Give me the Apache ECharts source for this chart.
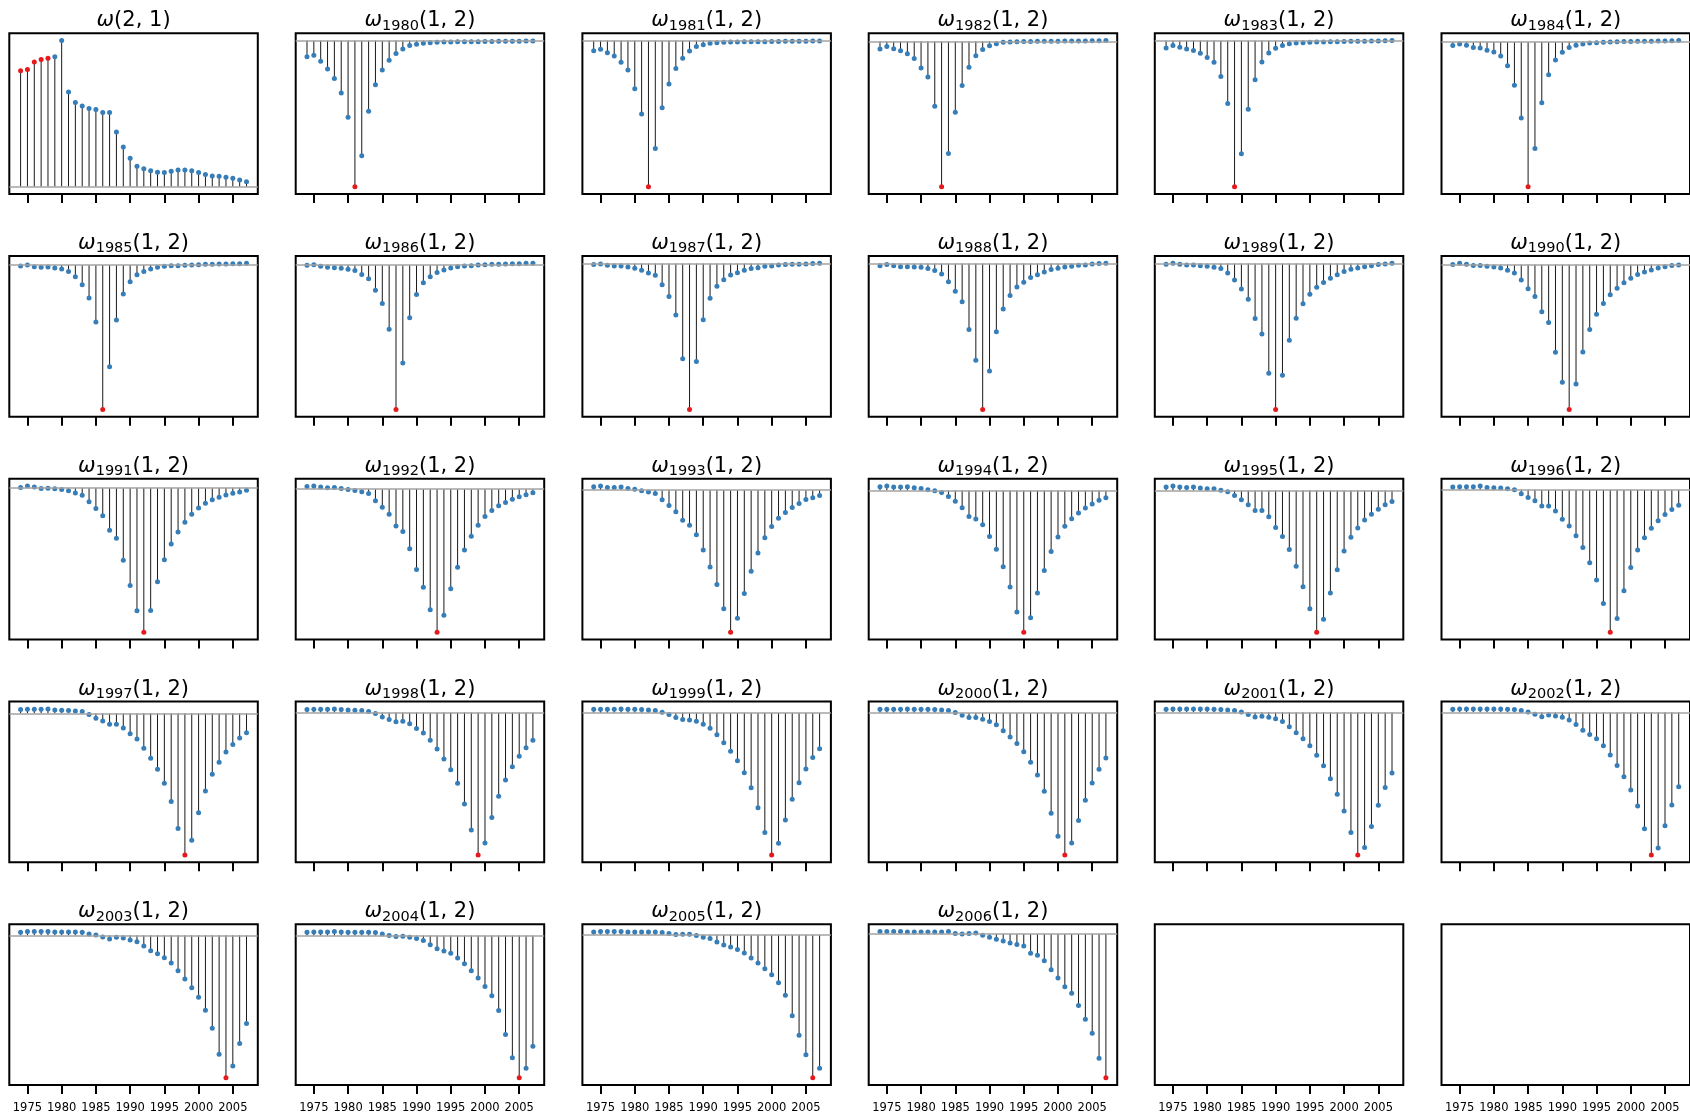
<!DOCTYPE html>
<html>
<head>
<meta charset="utf-8">
<script src="https://cdn.jsdelivr.net/npm/echarts@6/dist/echarts.min.js"></script>
<style>
  html, body { margin: 0; padding: 0; background: #fff; }
  #main { width: 1690px; height: 1119px; }
</style>
</head>
<body>
<div id="main"></div>
<script>
// x values (years) and tick labels
var years = [1974, 1975, 1976, 1977, 1978, 1979, 1980, 1981, 1982, 1983, 1984, 1985,
  1986, 1987, 1988, 1989, 1990, 1991, 1992, 1993, 1994, 1995, 1996, 1997, 1998,
  1999, 2000, 2001, 2002, 2003, 2004, 2005, 2006, 2007];
var tickYears = [1975, 1980, 1985, 1990, 1995, 2000, 2005];

// first panel: omega(2,1)
var w21 = [0.793, 0.802, 0.853, 0.871, 0.880, 0.890, 1.000, 0.648, 0.577, 0.552, 0.536,
  0.529, 0.508, 0.508, 0.375, 0.271, 0.195, 0.140, 0.122, 0.110, 0.099, 0.097, 0.106,
  0.115, 0.115, 0.110, 0.097, 0.083, 0.074, 0.071, 0.064, 0.057, 0.046, 0.034];
var w21Marked = [1974, 1975, 1976, 1977, 1978];

// omega_k(1,2) panels
var w1980 = [-11.0, -10.1, -14.2, -19.5, -25.9, -35.8, -52.5, -100, -78.9, -48.4, -30.3, -20.2, -13.5, -8.9, -5.7, -3.4, -2.5, -1.8, -1.4, -1.2, -1.0, -0.9, -0.8, -0.8, -0.7, -0.7, -0.6, -0.6, -0.5, -0.5, -0.4, -0.4, -0.3, -0.3];
var w1981 = [-6.9, -6.0, -8.3, -10.6, -14.9, -20.2, -32.9, -50.3, -100, -73.8, -46.0, -29.7, -19.1, -12.0, -7.1, -4.1, -2.8, -1.8, -1.4, -1.1, -1.0, -0.9, -0.8, -0.8, -0.7, -0.7, -0.6, -0.6, -0.5, -0.5, -0.4, -0.4, -0.3, -0.3];
var w1982 = [-5.3, -3.5, -5.1, -6.5, -8.6, -11.8, -18.3, -24.5, -44.7, -100, -77.1, -48.8, -30.3, -17.8, -10.0, -5.6, -3.0, -1.6, -0.7, -0.5, -0.3, -0.2, -0.1, 0, 0, 0.1, 0.1, 0.2, 0.2, 0.3, 0.3, 0.4, 0.4, 0.5];
var w1983 = [-5.0, -3.4, -4.6, -5.7, -6.7, -8.7, -11.5, -14.9, -24.5, -43.1, -100, -77.5, -47.0, -26.8, -14.7, -8.5, -5.3, -3.4, -2.1, -1.6, -1.4, -1.1, -1.0, -0.9, -0.8, -0.7, -0.6, -0.5, -0.5, -0.4, -0.3, -0.2, -0.1, 0];
var w1984 = [-2.5, -1.4, -2.3, -3.9, -4.2, -5.8, -6.9, -9.7, -16.4, -29.9, -52.5, -100, -73.6, -42.1, -22.7, -12.5, -7.2, -3.9, -2.3, -1.4, -0.7, -0.5, -0.2, 0, 0.1, 0.2, 0.3, 0.4, 0.5, 0.5, 0.6, 0.7, 0.8, 0.9];
var w1985 = [-0.7, 0, -1.2, -1.6, -1.4, -2.1, -2.8, -4.4, -8.1, -13.7, -22.9, -39.4, -100, -70.4, -38.0, -20.1, -11.6, -6.7, -4.4, -2.8, -1.6, -0.9, -0.5, -0.5, -0.2, 0, 0.2, 0.5, 0.5, 0.7, 0.7, 0.9, 0.9, 1.2];
var w1986 = [-0.2, 0.2, -0.9, -1.6, -1.9, -2.3, -3.0, -3.7, -6.5, -9.5, -17.4, -26.6, -44.4, -100, -67.8, -36.6, -20.4, -12.3, -8.1, -5.1, -3.5, -2.1, -1.2, -0.7, -0.5, 0, 0.2, 0.5, 0.5, 0.7, 0.9, 0.9, 1.2, 1.2];
var w1987 = [-0.7, -0.2, -1.1, -1.6, -1.6, -2.3, -3.2, -4.6, -6.4, -8.0, -14.5, -22.5, -35.2, -65.3, -100, -67.1, -38.6, -23.7, -15.6, -11.0, -7.8, -6.2, -4.6, -3.4, -2.8, -1.8, -1.6, -0.9, -0.7, -0.5, -0.5, -0.2, 0, 0.2];
var w1988 = [-1.4, -0.7, -1.4, -2.1, -2.1, -2.3, -2.5, -3.4, -4.8, -7.1, -12.4, -19.0, -26.1, -45.2, -66.3, -100, -73.6, -46.8, -31.2, -21.8, -16.1, -12.8, -9.6, -7.6, -5.7, -4.1, -3.2, -2.3, -1.8, -1.1, -0.9, -0.2, 0, 0.2];
var w1989 = [-0.5, 0.2, -0.5, -0.9, -0.9, -1.4, -1.8, -2.5, -3.4, -6.4, -11.3, -17.5, -24.4, -37.7, -48.3, -75.2, -100, -76.6, -52.6, -37.5, -27.6, -21.1, -16.3, -12.9, -10.1, -7.6, -5.5, -3.9, -3.0, -2.1, -1.4, -0.7, -0.2, 0.2];
var w1990 = [0, 0.9, 0.2, -0.7, -0.7, -1.2, -1.6, -2.3, -3.9, -5.8, -10.6, -16.7, -22.0, -32.6, -40.0, -60.6, -81.3, -100, -82.4, -60.4, -44.9, -34.3, -26.9, -20.8, -16.4, -12.5, -9.5, -6.9, -5.1, -3.7, -2.3, -1.4, -0.7, -0.2];
var w1991 = [0.2, 1.2, 0.5, -0.5, -0.2, -0.7, -1.2, -2.1, -3.5, -5.1, -9.7, -14.4, -19.4, -29.4, -34.9, -50.2, -67.6, -85.2, -100, -84.9, -65.0, -49.8, -38.9, -30.6, -23.8, -18.3, -13.9, -10.6, -8.3, -6.5, -4.9, -3.7, -2.8, -1.6];
var w1992 = [1.9, 2.1, 1.4, 0.9, 1.2, 0.5, -0.2, -0.9, -1.9, -3.0, -8.2, -12.6, -17.6, -25.8, -29.7, -41.7, -56.2, -68.6, -84.3, -100, -88.1, -69.6, -54.6, -42.6, -33.0, -25.3, -19.2, -15.0, -11.7, -9.4, -7.0, -5.4, -4.0, -2.6];
var w1993 = [2.4, 2.8, 1.9, 1.9, 2.1, 1.2, 0.5, -0.5, -1.4, -2.4, -6.8, -10.8, -15.3, -21.2, -24.7, -31.5, -42.1, -54.1, -66.4, -83.5, -100, -90.1, -72.7, -57.2, -44.2, -33.6, -25.6, -19.8, -15.8, -12.2, -9.4, -6.6, -5.4, -3.8];
var w1994 = [2.6, 3.1, 2.4, 2.4, 2.6, 1.9, 1.4, 0.5, -0.2, -1.4, -4.3, -7.6, -12.1, -18.4, -20.1, -24.1, -32.4, -41.4, -53.9, -68.1, -85.8, -100, -89.8, -72.3, -56.5, -43.0, -32.9, -25.3, -19.9, -15.8, -12.3, -9.5, -6.9, -5.2];
var w1995 = [2.4, 3.1, 2.4, 2.1, 2.4, 1.7, 1.2, 1.2, 0.2, -0.9, -3.5, -6.6, -10.1, -14.2, -14.2, -18.6, -26.2, -32.5, -41.7, -53.5, -67.9, -83.5, -100, -90.8, -72.4, -55.9, -42.7, -33.0, -26.4, -20.8, -16.7, -13.2, -10.1, -7.8];
var w1996 = [1.9, 2.1, 2.1, 2.1, 2.6, 1.6, 1.4, 1.2, 0.7, 0, -2.8, -5.4, -7.7, -11.3, -11.3, -14.8, -20.7, -25.4, -32.2, -40.6, -51.2, -63.4, -79.8, -100, -90.4, -70.9, -54.5, -42.3, -33.6, -27.0, -21.8, -17.4, -13.8, -10.8];
var w1997 = [2.6, 2.8, 2.8, 2.8, 3.1, 2.4, 2.1, 1.9, 1.7, 1.2, -0.9, -3.5, -5.4, -7.8, -7.8, -10.4, -14.4, -18.2, -24.6, -31.7, -39.5, -49.4, -62.2, -81.3, -100, -89.6, -70.2, -54.8, -43.0, -34.5, -27.4, -22.0, -17.5, -13.7];
var w1998 = [2.1, 2.4, 2.4, 2.4, 2.6, 2.1, 1.9, 1.6, 1.4, 0.7, -0.7, -3.1, -4.9, -6.4, -6.1, -7.8, -11.1, -14.4, -19.5, -25.6, -32.5, -40.2, -49.6, -64.2, -82.4, -100, -91.5, -73.6, -58.8, -47.3, -38.1, -30.6, -24.7, -19.5];
var w1999 = [2.6, 2.6, 2.6, 2.6, 2.8, 2.6, 2.6, 2.4, 2.1, 1.7, 0.5, -1.2, -3.3, -4.7, -5.0, -5.9, -8.0, -10.9, -15.4, -21.0, -27.0, -33.6, -42.1, -52.7, -66.7, -84.2, -100, -91.7, -75.4, -60.8, -49.2, -39.5, -31.4, -25.3];
var w2000 = [2.6, 2.6, 2.6, 2.6, 2.8, 2.6, 2.6, 2.6, 2.4, 2.1, 1.7, 0.2, -1.7, -3.3, -3.3, -4.5, -6.1, -8.3, -12.5, -17.0, -21.5, -27.4, -34.8, -43.7, -55.1, -70.7, -86.8, -100, -91.5, -75.7, -61.5, -49.4, -39.7, -31.7];
var w2001 = [2.1, 2.4, 2.4, 2.4, 2.4, 2.4, 2.4, 2.1, 1.9, 1.6, 1.2, 0.2, -1.6, -3.3, -2.8, -3.5, -4.5, -6.4, -10.1, -14.4, -18.6, -23.5, -30.1, -37.4, -46.6, -57.4, -69.2, -84.2, -100, -94.8, -80.0, -65.2, -52.7, -42.6];
var w2002 = [2.1, 2.4, 2.4, 2.4, 2.4, 2.4, 2.4, 2.4, 2.1, 1.9, 1.2, 0.2, -1.4, -3.1, -1.9, -2.6, -3.5, -5.4, -8.5, -12.5, -15.5, -18.6, -23.5, -29.9, -37.2, -45.2, -54.4, -65.6, -81.6, -100, -95.1, -79.5, -65.0, -52.2];
var w2003 = [2.1, 2.6, 2.6, 2.6, 2.6, 2.4, 2.4, 2.4, 2.4, 2.1, 0.9, 0.2, -1.2, -2.6, -1.4, -1.9, -3.3, -4.5, -7.5, -10.8, -12.9, -15.8, -19.5, -24.9, -30.6, -36.9, -43.5, -52.7, -65.2, -83.5, -100, -91.8, -76.0, -61.9];
var w2004 = [2.4, 2.6, 2.6, 2.6, 2.8, 2.6, 2.4, 2.4, 2.4, 2.4, 2.1, 1.2, 0, -0.7, -0.5, -1.2, -2.1, -3.5, -6.4, -9.2, -10.8, -12.5, -15.8, -19.8, -24.7, -29.9, -35.8, -42.4, -52.7, -69.6, -85.9, -100, -93.4, -77.9];
var w2005 = [2.1, 2.3, 2.3, 2.3, 2.3, 2.1, 2.1, 2.1, 2.1, 2.1, 1.6, 0.9, 0.2, 0.5, 0.5, -0.5, -1.6, -2.6, -4.9, -7.0, -8.5, -10.3, -12.7, -16.2, -19.7, -23.7, -27.9, -33.6, -42.3, -56.6, -70.2, -84.0, -100, -93.4];
var w2006 = [1.6, 1.6, 1.6, 1.6, 1.4, 1.4, 1.4, 1.4, 1.4, 1.4, 1.6, 0.2, 0, 0.2, 0.7, -0.9, -2.3, -3.7, -4.9, -6.3, -7.4, -8.4, -13.5, -14.9, -18.6, -24.9, -30.7, -36.7, -41.2, -49.8, -59.3, -69.1, -86.5, -100];

var panelYears = [1980, 1981, 1982, 1983, 1984, 1985, 1986, 1987, 1988, 1989, 1990, 1991, 1992,
  1993, 1994, 1995, 1996, 1997, 1998, 1999, 2000, 2001, 2002, 2003, 2004, 2005, 2006];
var panelValues = [w1980, w1981, w1982, w1983, w1984, w1985, w1986, w1987, w1988, w1989, w1990,
  w1991, w1992, w1993, w1994, w1995, w1996, w1997, w1998, w1999, w2000, w2001, w2002, w2003,
  w2004, w2005, w2006];
var panelMarked = [1981, 1982, 1983, 1984, 1985, 1986, 1987, 1988, 1989, 1990, 1991, 1992, 1993,
  1994, 1995, 1996, 1997, 1998, 1999, 2000, 2001, 2002, 2003, 2004, 2005, 2006, 2007];

var chart = echarts.init(document.getElementById('main'));

var colLeft = [9.3, 295.7, 582.4, 868.7, 1154.8, 1441.5];
var rowTop = [33.3, 256, 478.8, 701.6, 924.3];
var boxW = 248.5, boxH = 160.7;
var BLUE = '#377eb8', RED = '#e41a1c';
var FONT = 'DejaVu Sans';

var grids = [], xAxes = [], yAxes = [], series = [], graphics = [];

var titleRich = {
  w: { fontFamily: FONT, fontStyle: 'italic', fontSize: 21, lineHeight: 25, color: '#000' },
  s: { fontFamily: FONT, fontSize: 14.5, lineHeight: 14, verticalAlign: 'bottom', color: '#000' },
  p: { fontFamily: FONT, fontSize: 21, lineHeight: 25, color: '#000' }
};

function addPanel(i, values, marked, titleText) {
  var r = Math.floor(i / 6), c = i % 6;
  grids.push({
    left: colLeft[c], top: rowTop[r], width: boxW, height: boxH,
    show: true, borderColor: '#000', borderWidth: 2, backgroundColor: 'transparent',
    containLabel: false, outerBoundsMode: 'none'
  });

  // matplotlib-like autoscale: 5% margin around data incl. the 0 baseline
  var lo = 0, hi = 1;
  if (values) {
    lo = Math.min(0, Math.min.apply(null, values));
    hi = Math.max(0, Math.max.apply(null, values));
    var pad = (hi - lo) * 0.05;
    lo -= pad; hi += pad;
  }

  xAxes.push({
    gridIndex: i, type: 'value', min: 1972.35, max: 2008.65,
    axisLine: { show: false, onZero: false },
    splitLine: { show: false },
    axisTick: { show: true, customValues: tickYears, length: 9, lineStyle: { color: '#000', width: 2 } },
    axisLabel: {
      show: r === 4, customValues: tickYears, margin: 17, fontSize: 11.5, color: '#000',
      fontFamily: FONT, formatter: function (v) { return String(v); }
    }
  });
  yAxes.push({
    gridIndex: i, type: 'value', min: lo, max: hi,
    axisLine: { show: false, onZero: false }, axisTick: { show: false },
    axisLabel: { show: false }, splitLine: { show: false }
  });

  graphics.push({
    type: 'text', x: colLeft[c] + boxW / 2, y: rowTop[r] - 12.5,
    style: { text: titleText, rich: titleRich, align: 'center', verticalAlign: 'middle' }
  });

  if (!values) return;
  var pts = years.map(function (y, k) { return [y, values[k]]; });

  // stems + baseline
  series.push({
    type: 'custom', xAxisIndex: i, yAxisIndex: i, data: pts, silent: true, z: 2,
    renderItem: function (params, api) {
      var a = api.coord([api.value(0), 0]);
      var b = api.coord([api.value(0), api.value(1)]);
      return { type: 'line', shape: { x1: a[0], y1: a[1], x2: b[0], y2: b[1] },
        style: { stroke: '#1a1a1a', lineWidth: 1 } };
    },
    markLine: {
      silent: true, symbol: 'none', label: { show: false },
      lineStyle: { color: '#a3a3a3', width: 1.5, type: 'solid' },
      data: [{ yAxis: 0 }], animation: false
    }
  });
  // markers
  series.push({
    type: 'scatter', xAxisIndex: i, yAxisIndex: i, data: pts, symbolSize: 5, z: 3, silent: true,
    itemStyle: {
      opacity: 1,
      color: function (p) { return marked.indexOf(p.value[0]) >= 0 ? RED : BLUE; }
    }
  });
}

addPanel(0, w21, w21Marked, '{w|ω}{p|(2, 1)}');
for (var k = 0; k < panelYears.length; k++) {
  addPanel(k + 1, panelValues[k], [panelMarked[k]], '{w|ω}{s|' + panelYears[k] + '}{p|(1, 2)}');
}
addPanel(28, null, [], '');
addPanel(29, null, [], '');

var option = {
  animation: false,
  backgroundColor: '#fff',
  grid: grids,
  xAxis: xAxes,
  yAxis: yAxes,
  series: series,
  graphic: graphics
};
chart.setOption(option);
</script>
</body>
</html>
